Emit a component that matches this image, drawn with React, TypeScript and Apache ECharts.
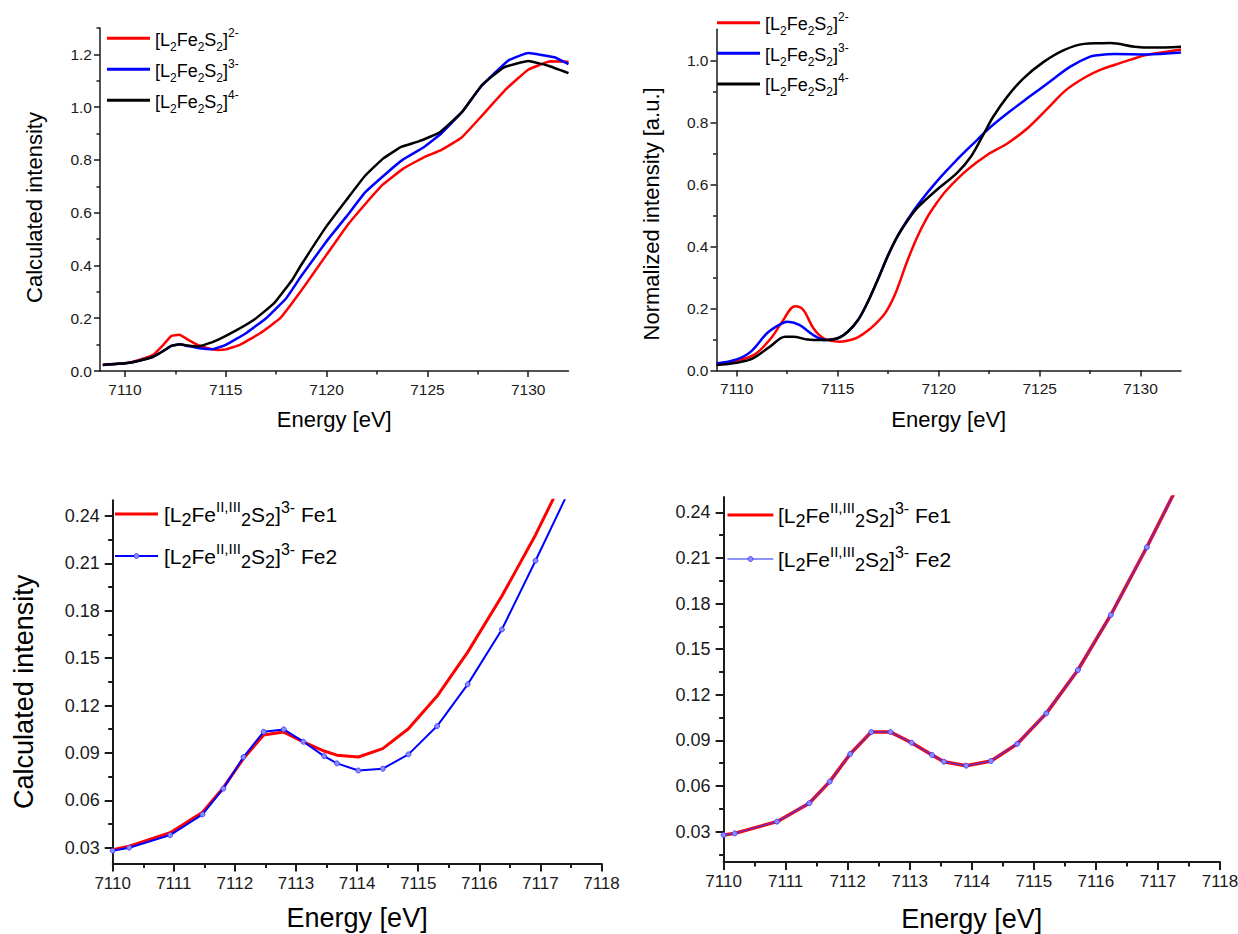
import React, { useEffect, useRef } from 'react';
import * as echarts from 'echarts';

const FONT = '"Liberation Sans", Arial, Helvetica, sans-serif';
const AX = '#1a1a1a';

// ---------- top-left: calculated spectra ----------
const tlRedE = [7108.9, 7110.0, 7110.7, 7111.4, 7111.9, 7112.3, 7112.7, 7113.1, 7113.6, 7114.1, 7114.6, 7115.0, 7115.7, 7116.7, 7117.7, 7118.7, 7120.0, 7121.0, 7121.9, 7122.8, 7123.8, 7124.8, 7125.7, 7126.7, 7127.7, 7128.9, 7130.0, 7131.1, 7132.0];
const tlRedI = [0.024, 0.029, 0.042, 0.061, 0.099, 0.133, 0.137, 0.120, 0.099, 0.086, 0.080, 0.082, 0.099, 0.143, 0.200, 0.300, 0.441, 0.549, 0.631, 0.707, 0.767, 0.809, 0.838, 0.885, 0.967, 1.068, 1.142, 1.174, 1.172];
const tlBlueE = [7108.9, 7110.0, 7110.7, 7111.4, 7111.9, 7112.3, 7112.7, 7113.1, 7113.7, 7114.3, 7115.0, 7116.0, 7117.0, 7118.0, 7118.7, 7120.0, 7121.0, 7121.9, 7122.9, 7123.8, 7124.8, 7125.7, 7126.7, 7127.7, 7129.0, 7130.0, 7131.3, 7132.0];
const tlBlueI = [0.023, 0.029, 0.039, 0.054, 0.076, 0.095, 0.101, 0.095, 0.086, 0.082, 0.099, 0.143, 0.200, 0.276, 0.355, 0.492, 0.587, 0.676, 0.745, 0.802, 0.847, 0.901, 0.980, 1.081, 1.176, 1.205, 1.189, 1.163];
const tlBlackE = [7108.9, 7110.0, 7110.7, 7111.4, 7111.9, 7112.3, 7112.7, 7113.1, 7113.6, 7114.4, 7115.4, 7116.4, 7117.4, 7118.3, 7118.7, 7120.0, 7121.0, 7121.9, 7122.8, 7123.7, 7124.6, 7125.6, 7126.7, 7127.7, 7128.8, 7130.0, 7131.0, 7132.0];
const tlBlackI = [0.023, 0.029, 0.039, 0.054, 0.076, 0.095, 0.101, 0.097, 0.093, 0.111, 0.149, 0.194, 0.257, 0.346, 0.397, 0.549, 0.650, 0.739, 0.805, 0.849, 0.871, 0.904, 0.980, 1.084, 1.151, 1.175, 1.157, 1.129];

// ---------- top-right: normalized spectra ----------
const trRedE = [7109.0, 7110.0, 7110.9, 7111.7, 7112.2, 7112.9, 7113.3, 7113.8, 7114.3, 7115.1, 7115.9, 7116.4, 7116.9, 7117.4, 7117.9, 7118.4, 7118.9, 7119.4, 7119.9, 7120.4, 7121.4, 7122.4, 7123.4, 7124.4, 7125.4, 7126.3, 7127.3, 7128.0, 7128.7, 7129.7, 7130.2, 7132.0];
const trRedI = [0.020, 0.032, 0.052, 0.104, 0.152, 0.207, 0.195, 0.136, 0.104, 0.093, 0.104, 0.124, 0.152, 0.190, 0.255, 0.345, 0.425, 0.490, 0.540, 0.582, 0.646, 0.695, 0.732, 0.781, 0.845, 0.904, 0.947, 0.969, 0.985, 1.006, 1.016, 1.035];
const trBlueE = [7109.0, 7110.0, 7110.7, 7111.5, 7112.1, 7112.5, 7113.1, 7113.8, 7114.4, 7115.0, 7115.5, 7116.0, 7116.5, 7117.0, 7117.5, 7118.0, 7118.5, 7119.0, 7119.9, 7120.9, 7121.9, 7122.5, 7123.5, 7124.5, 7125.5, 7126.5, 7127.5, 7128.0, 7128.7, 7130.2, 7132.0];
const trBlueI = [0.023, 0.036, 0.061, 0.120, 0.147, 0.157, 0.147, 0.114, 0.098, 0.104, 0.125, 0.162, 0.222, 0.295, 0.372, 0.437, 0.490, 0.537, 0.609, 0.679, 0.743, 0.781, 0.834, 0.883, 0.931, 0.979, 1.012, 1.017, 1.020, 1.019, 1.025];
const trBlackE = [7109.0, 7110.0, 7110.8, 7111.65, 7112.4, 7112.8, 7113.5, 7114.3, 7115.0, 7115.5, 7116.0, 7116.5, 7117.0, 7117.5, 7118.0, 7118.5, 7119.0, 7119.9, 7120.9, 7121.6, 7122.2, 7122.7, 7123.4, 7124.2, 7125.2, 7126.2, 7127.2, 7128.0, 7128.5, 7129.7, 7130.6, 7132.0];
const trBlackI = [0.018, 0.025, 0.039, 0.077, 0.109, 0.109, 0.100, 0.098, 0.104, 0.125, 0.162, 0.222, 0.295, 0.372, 0.437, 0.487, 0.528, 0.582, 0.636, 0.690, 0.759, 0.818, 0.883, 0.942, 0.995, 1.033, 1.053, 1.055, 1.056, 1.044, 1.041, 1.044];

// ---------- bottom-left: Fe1 / Fe2 (calculated) ----------
const blE = [7110.0, 7110.27, 7110.94, 7111.47, 7111.81, 7112.14, 7112.47, 7112.80, 7113.12, 7113.46, 7113.67, 7114.02, 7114.42, 7114.84, 7115.31, 7115.81, 7116.37, 7116.92, 7117.48];
const blFe1 = [0.0288, 0.0310, 0.0395, 0.0525, 0.0680, 0.0864, 0.1013, 0.1032, 0.0970, 0.0912, 0.0886, 0.0874, 0.0927, 0.1053, 0.1260, 0.1538, 0.1893, 0.2280, 0.272];
const blFe2 = [0.0281, 0.0300, 0.0380, 0.0511, 0.0674, 0.0874, 0.1034, 0.1049, 0.0971, 0.0880, 0.0834, 0.0789, 0.0800, 0.0891, 0.1070, 0.1334, 0.1682, 0.2117, 0.257];

// ---------- bottom-right: Fe1 / Fe2 ----------
const brE = [7110.0, 7110.18, 7110.86, 7111.38, 7111.71, 7112.04, 7112.38, 7112.69, 7113.03, 7113.36, 7113.55, 7113.91, 7114.31, 7114.73, 7115.20, 7115.71, 7116.24, 7116.82, 7117.40];
const brFe1 = [0.0278, 0.0289, 0.0366, 0.0487, 0.0629, 0.0811, 0.0955, 0.0955, 0.0885, 0.0804, 0.0760, 0.0734, 0.0765, 0.0877, 0.1078, 0.1363, 0.1725, 0.2170, 0.264];
const brFe2 = [0.0278, 0.0289, 0.0366, 0.0487, 0.0629, 0.0811, 0.0955, 0.0955, 0.0885, 0.0804, 0.0760, 0.0734, 0.0765, 0.0877, 0.1078, 0.1363, 0.1725, 0.2170, 0.264];

// ---------- tick values ----------
const topXMajor = [7110, 7115, 7120, 7125, 7130];
const topXMinor = [7112.5, 7117.5, 7122.5, 7127.5];
const tlYMajor = [0, 0.2, 0.4, 0.6, 0.8, 1.0, 1.2];
const tlYMinor = [0.1, 0.3, 0.5, 0.7, 0.9, 1.1, 1.3];
const trYMajor = [0, 0.2, 0.4, 0.6, 0.8, 1.0];
const trYMinor = [0.1, 0.3, 0.5, 0.7, 0.9];
const botXMajor = [7110, 7111, 7112, 7113, 7114, 7115, 7116, 7117, 7118];
const botXMinor = [7110.5, 7111.5, 7112.5, 7113.5, 7114.5, 7115.5, 7116.5, 7117.5];
const botYMajor = [0.03, 0.06, 0.09, 0.12, 0.15, 0.18, 0.21, 0.24];
const blYMinor = [0.045, 0.075, 0.105, 0.135, 0.165, 0.195, 0.225];
const brYMinor = [0.015, 0.045, 0.075, 0.105, 0.135, 0.165, 0.195, 0.225];

// ---------- legend labels ----------
const topLegend = ['[L{s|2}Fe{s|2}S{s|2}]{p|2-}', '[L{s|2}Fe{s|2}S{s|2}]{p|3-}', '[L{s|2}Fe{s|2}S{s|2}]{p|4-}'];
const botLegend = ['[L{s|2}Fe{p|II,III}{s|2}S{s|2}]{q|3-} Fe1', '[L{s|2}Fe{p|II,III}{s|2}S{s|2}]{q|3-} Fe2'];

const pairs = (xs: number[], ys: number[]) => xs.map((x, i) => [x, ys[i]]);

type AxCfg = {
  grid: number; dim: 'x' | 'y'; min: number; max: number;
  majors: number[]; minors: number[]; fmt: (v: number) => string;
  labelSize: number; labelMargin: number; tickLen: number; minorLen: number; lw: number;
  name?: string; nameSize?: number; nameGap?: number; namePad?: number[];
};

function axisPair(c: AxCfg) {
  const pos = c.dim === 'x' ? 'bottom' : 'left';
  const main: any = {
    type: 'value', gridIndex: c.grid, position: pos, min: c.min, max: c.max, scale: true,
    axisLine: { show: true, onZero: false, lineStyle: { color: AX, width: c.lw } },
    axisTick: { show: true, inside: false, length: c.tickLen, customValues: c.majors, lineStyle: { color: AX, width: c.lw } },
    axisLabel: { show: true, customValues: c.majors, formatter: c.fmt, fontSize: c.labelSize, fontFamily: FONT, color: AX, margin: c.labelMargin },
    splitLine: { show: false }, minorTick: { show: false }, minorSplitLine: { show: false },
  };
  if (c.name) {
    main.name = c.name;
    main.nameLocation = 'middle';
    main.nameGap = c.nameGap;
    main.nameMoveOverlap = false;
    main.nameTextStyle = { fontSize: c.nameSize, fontFamily: FONT, color: '#000', padding: c.namePad || 0 };
  }
  const minor: any = {
    type: 'value', gridIndex: c.grid, position: pos, min: c.min, max: c.max, scale: true,
    axisLine: { show: false, onZero: false },
    axisTick: { show: true, inside: false, length: c.minorLen, customValues: c.minors, lineStyle: { color: AX, width: c.lw } },
    axisLabel: { show: false }, splitLine: { show: false },
  };
  return [main, minor];
}

const fmt0 = (v: number) => String(Math.round(v));
const fmt1 = (v: number) => v.toFixed(1);
const fmt2 = (v: number) => v.toFixed(2);

function legendText(x: number, y: number, text: string, big: boolean) {
  const rich = big
    ? {
        s: { fontSize: 18, fontFamily: FONT, fill: '#000', lineHeight: 14, verticalAlign: 'bottom' },
        p: { fontSize: 15, fontFamily: FONT, fill: '#000', lineHeight: 9, verticalAlign: 'top' },
        q: { fontSize: 16, fontFamily: FONT, fill: '#000', lineHeight: 15, verticalAlign: 'top' },
      }
    : {
        s: { fontSize: 12, fontFamily: FONT, fill: '#000', lineHeight: 12, verticalAlign: 'bottom' },
        p: { fontSize: 12, fontFamily: FONT, fill: '#000', lineHeight: 13, verticalAlign: 'top' },
      };
  return {
    type: 'text', x, y, silent: true,
    style: {
      text, rich, fontSize: big ? 21 : 18, fontFamily: FONT, fill: '#000',
      lineHeight: big ? 30 : 26, align: 'left', verticalAlign: 'middle',
    },
  };
}

function legendLine(x1: number, x2: number, y: number, color: string, w: number) {
  return { type: 'line', silent: true, shape: { x1, y1: y, x2, y2: y }, style: { stroke: color, lineWidth: w } };
}

export default function App() {
  const ref = useRef<HTMLDivElement>(null);
  useEffect(() => {
    if (!ref.current) return;
    const chart = echarts.init(ref.current, null, { renderer: 'svg' });

    const grids = [
      { left: 100, top: 28, width: 468.5, height: 343 },
      { left: 716.5, top: 29.3, width: 464.5, height: 341.2 },
      { left: 112.7, top: 500.2, width: 488.8, height: 363.3 },
      { left: 723.6, top: 497.1, width: 496.4, height: 365 },
    ].map((g) => ({ ...g, containLabel: false, outerBoundsMode: 'none', show: false }));

    const xAxes = [
      ...axisPair({ grid: 0, dim: 'x', min: 7108.76, max: 7132, majors: topXMajor, minors: topXMinor, fmt: fmt0, labelSize: 15.5, labelMargin: 10, tickLen: 6, minorLen: 3.5, lw: 1.5, name: 'Energy [eV]', nameSize: 22, nameGap: 37 }),
      ...axisPair({ grid: 1, dim: 'x', min: 7109, max: 7132, majors: topXMajor, minors: topXMinor, fmt: fmt0, labelSize: 15.5, labelMargin: 10, tickLen: 6, minorLen: 3.5, lw: 1.5, name: 'Energy [eV]', nameSize: 22, nameGap: 38 }),
      ...axisPair({ grid: 2, dim: 'x', min: 7110, max: 7118, majors: botXMajor, minors: botXMinor, fmt: fmt0, labelSize: 17, labelMargin: 11, tickLen: 8, minorLen: 4.5, lw: 2, name: 'Energy [eV]', nameSize: 27, nameGap: 41 }),
      ...axisPair({ grid: 3, dim: 'x', min: 7110, max: 7118, majors: botXMajor, minors: botXMinor, fmt: fmt0, labelSize: 17, labelMargin: 11, tickLen: 8, minorLen: 4.5, lw: 2, name: 'Energy [eV]', nameSize: 27, nameGap: 43 }),
    ];
    const yAxes = [
      ...axisPair({ grid: 0, dim: 'y', min: 0, max: 1.3, majors: tlYMajor, minors: tlYMinor, fmt: fmt1, labelSize: 15.5, labelMargin: 8, tickLen: 6, minorLen: 3.5, lw: 1.5, name: 'Calculated intensity', nameSize: 22, nameGap: 55, namePad: [0, 16, 0, 0] }),
      ...axisPair({ grid: 1, dim: 'y', min: 0, max: 1.1, majors: trYMajor, minors: trYMinor, fmt: fmt1, labelSize: 15.5, labelMargin: 8, tickLen: 6, minorLen: 3.5, lw: 1.5, name: 'Normalized intensity [a.u.]', nameSize: 22, nameGap: 54, namePad: [0, 28, 0, 0] }),
      ...axisPair({ grid: 2, dim: 'y', min: 0.02, max: 0.25, majors: botYMajor, minors: blYMinor, fmt: fmt2, labelSize: 18, labelMargin: 13, tickLen: 8, minorLen: 4.5, lw: 2, name: 'Calculated intensity', nameSize: 27, nameGap: 75, namePad: [0, 20, 0, 0] }),
      ...axisPair({ grid: 3, dim: 'y', min: 0.01, max: 0.25, majors: botYMajor, minors: brYMinor, fmt: fmt2, labelSize: 18, labelMargin: 13, tickLen: 8, minorLen: 4.5, lw: 2 }),
    ];

    const line = (name: string, xi: number, data: number[][], color: string, width: number, smooth: number) => ({
      type: 'line', name, xAxisIndex: xi, yAxisIndex: xi, data, showSymbol: false, symbol: 'none',
      smooth, clip: true, silent: true,
      lineStyle: { color, width }, itemStyle: { color },
    });
    const markerLine = (name: string, xi: number, data: number[][], color: string, width: number) => ({
      type: 'line', name, xAxisIndex: xi, yAxisIndex: xi, data, showSymbol: true, symbol: 'circle', symbolSize: 5,
      smooth: false, clip: true, silent: true,
      lineStyle: { color, width },
      itemStyle: { color: '#8c8cff', borderColor: '#3333ff', borderWidth: 0.8 },
    });

    const series = [
      line('tl2', 0, pairs(tlRedE, tlRedI), '#ff0000', 2.5, 0.1),
      line('tl3', 0, pairs(tlBlueE, tlBlueI), '#0000ff', 2.5, 0.1),
      line('tl4', 0, pairs(tlBlackE, tlBlackI), '#000000', 2.5, 0.1),
      line('tr2', 2, pairs(trRedE, trRedI), '#ff0000', 2.5, 0.35),
      line('tr3', 2, pairs(trBlueE, trBlueI), '#0000ff', 2.5, 0.35),
      line('tr4', 2, pairs(trBlackE, trBlackI), '#000000', 2.5, 0.35),
      line('blFe1', 4, pairs(blE, blFe1), '#ff0000', 3, 0),
      markerLine('blFe2', 4, pairs(blE, blFe2), '#0000ff', 2),
      line('brFe1', 6, pairs(brE, brFe1), '#ff0000', 3.5, 0),
      markerLine('brFe2', 6, pairs(brE, brFe2), 'rgba(60,60,255,0.75)', 1.5),
    ];

    const graphics: any[] = [
      legendLine(107, 150, 38.3, '#ff0000', 3), legendText(155, 39.5, topLegend[0], false),
      legendLine(107, 150, 69.3, '#0000ff', 3), legendText(155, 70.5, topLegend[1], false),
      legendLine(107, 150, 100.3, '#000000', 3), legendText(155, 101.5, topLegend[2], false),
      legendLine(717, 760, 22.7, '#ff0000', 3), legendText(765, 24, topLegend[0], false),
      legendLine(717, 760, 53.3, '#0000ff', 3), legendText(765, 54.5, topLegend[1], false),
      legendLine(717, 760, 84, '#000000', 3), legendText(765, 85.3, topLegend[2], false),
      legendLine(115, 158, 514, '#ff0000', 3), legendText(164, 514, botLegend[0], true),
      legendLine(115, 158, 556, '#0000ff', 2),
      { type: 'circle', silent: true, shape: { cx: 136.5, cy: 556, r: 2.5 }, style: { fill: '#8c8cff', stroke: '#3333ff', lineWidth: 0.8 } },
      legendText(164, 556, botLegend[1], true),
      legendLine(727.5, 773.4, 515, '#ff0000', 3), legendText(778, 515, botLegend[0], true),
      legendLine(727.5, 773.4, 559, 'rgba(60,60,255,0.75)', 1.5),
      { type: 'circle', silent: true, shape: { cx: 750.5, cy: 559, r: 2.5 }, style: { fill: '#8c8cff', stroke: '#3333ff', lineWidth: 0.8 } },
      legendText(778, 559, botLegend[1], true),
    ];

    chart.setOption({
      animation: false,
      backgroundColor: '#ffffff',
      grid: grids,
      xAxis: xAxes,
      yAxis: yAxes,
      series,
      graphic: graphics,
    } as any);
    return () => chart.dispose();
  }, []);
  return <div ref={ref} style={{ position: 'fixed', left: 0, top: 0, width: 1238, height: 934 }} />;
}
